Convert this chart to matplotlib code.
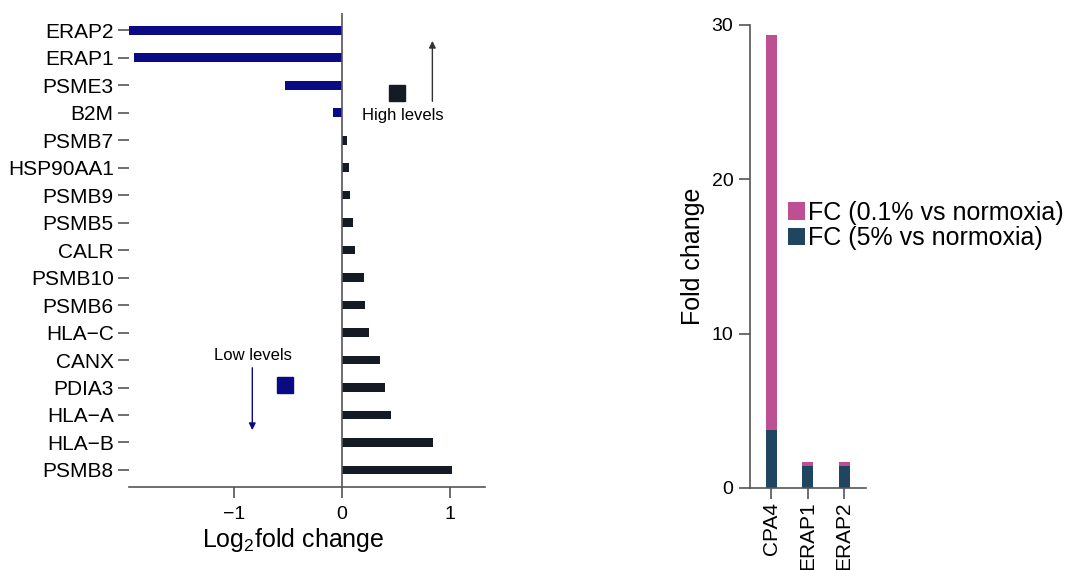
import numpy as np
import matplotlib
matplotlib.use("Agg")
import matplotlib.pyplot as plt

plt.rcParams['font.family'] = ['Liberation Sans', 'DejaVu Sans']
plt.rcParams['mathtext.fontset'] = 'custom'
plt.rcParams['mathtext.rm'] = 'Liberation Sans'
plt.rcParams['mathtext.it'] = 'Liberation Sans:italic'

# left panel: log2 fold change per gene (top to bottom)
genes = ['ERAP2', 'ERAP1', 'PSME3', 'B2M', 'PSMB7', 'HSP90AA1', 'PSMB9', 'PSMB5',
         'CALR', 'PSMB10', 'PSMB6', 'HLA\u2212C', 'CANX', 'PDIA3', 'HLA\u2212A',
         'HLA\u2212B', 'PSMB8']
log2fc = [-1.97, -1.92, -0.53, -0.08, 0.05, 0.06, 0.07, 0.10,
          0.12, 0.20, 0.21, 0.25, 0.35, 0.40, 0.45, 0.84, 1.02]

# right panel: fold change
fc_genes = ['CPA4', 'ERAP1', 'ERAP2']
fc_01 = [29.36, 1.68, 1.68]
fc_5 = [3.76, 1.43, 1.43]

navy = '#0a0a85'
dark = '#151b24'
pink = '#bf4f93'
teal = '#1f4560'
spine_col = '#555555'

fig = plt.figure(figsize=(10.75, 5.7), dpi=100)

# ---- left panel ----
ax = fig.add_axes([0.120, 0.1456, 0.331, 0.8314])
ypos = np.arange(len(genes))
colors = [navy if v < 0 else dark for v in log2fc]
ax.barh(ypos, log2fc, height=0.32, color=colors)
ax.axvline(0, color=spine_col, lw=1.2)
ax.set_ylim(len(genes) - 1 + 0.62, -0.62)
ax.set_xlim(-1.97, 1.32)
ax.set_yticks(ypos)
ax.set_yticklabels(genes, fontsize=15)
ax.set_xticks([-1, 0, 1])
ax.tick_params(axis='x', labelsize=14, length=8, width=1.2, color=spine_col, pad=6)
ax.tick_params(axis='y', length=8, width=1.2, color=spine_col, pad=3)
for s in ['top', 'right', 'left']:
    ax.spines[s].set_visible(False)
ax.spines['bottom'].set_color(spine_col)
ax.spines['bottom'].set_linewidth(1.2)
ax.set_xlabel('Log$_2$fold change', fontsize=18)
ax.xaxis.set_label_coords(0.462, -0.082)

# annotations
ax.plot(0.51, 2.29, marker='s', markersize=11.5, color=dark, clip_on=False)
ax.text(0.56, 3.09, 'High levels', fontsize=12, ha='center', va='center')
ax.annotate('', xy=(0.835, 0.29), xytext=(0.835, 2.69),
            arrowprops=dict(arrowstyle='-|>', color='#333333', lw=1, mutation_scale=10))
ax.plot(-0.53, 12.9, marker='s', markersize=11.5, color=navy, clip_on=False)
ax.text(-0.82, 11.82, 'Low levels', fontsize=12, ha='center', va='center')
ax.annotate('', xy=(-0.83, 14.65), xytext=(-0.83, 12.18),
            arrowprops=dict(arrowstyle='-|>', color=navy, lw=1, mutation_scale=10))

# ---- right panel ----
ax2 = fig.add_axes([0.6977, 0.1439, 0.1079, 0.8123])
xpos = np.arange(len(fc_genes))
b1 = ax2.bar(xpos, fc_01, width=0.3, color=pink, label='FC (0.1% vs normoxia)')
b2 = ax2.bar(xpos, fc_5, width=0.3, color=teal, label='FC (5% vs normoxia)')
ax2.set_ylim(0, 30)
ax2.set_xlim(-0.59, 2.6)
ax2.set_yticks([0, 10, 20, 30])
ax2.set_xticks(xpos)
ax2.set_xticklabels(fc_genes, rotation=90)
ax2.tick_params(axis='y', labelsize=14, length=8, width=1.2, color=spine_col, pad=4)
ax2.tick_params(axis='x', labelsize=15, length=8, width=1.2, color=spine_col, pad=2)
for s in ['top', 'right']:
    ax2.spines[s].set_visible(False)
for s in ['left', 'bottom']:
    ax2.spines[s].set_color(spine_col)
    ax2.spines[s].set_linewidth(1.2)
ax2.set_ylabel('Fold change', fontsize=18, labelpad=5)

fig.legend(handles=[b1, b2], loc='center left', bbox_to_anchor=(0.733, 0.604),
           frameon=False, fontsize=18, handlelength=0.7, handleheight=0.7,
           handletextpad=0.12, labelspacing=0.06, borderpad=0, borderaxespad=0)

fig.savefig('out.png', dpi=100)
